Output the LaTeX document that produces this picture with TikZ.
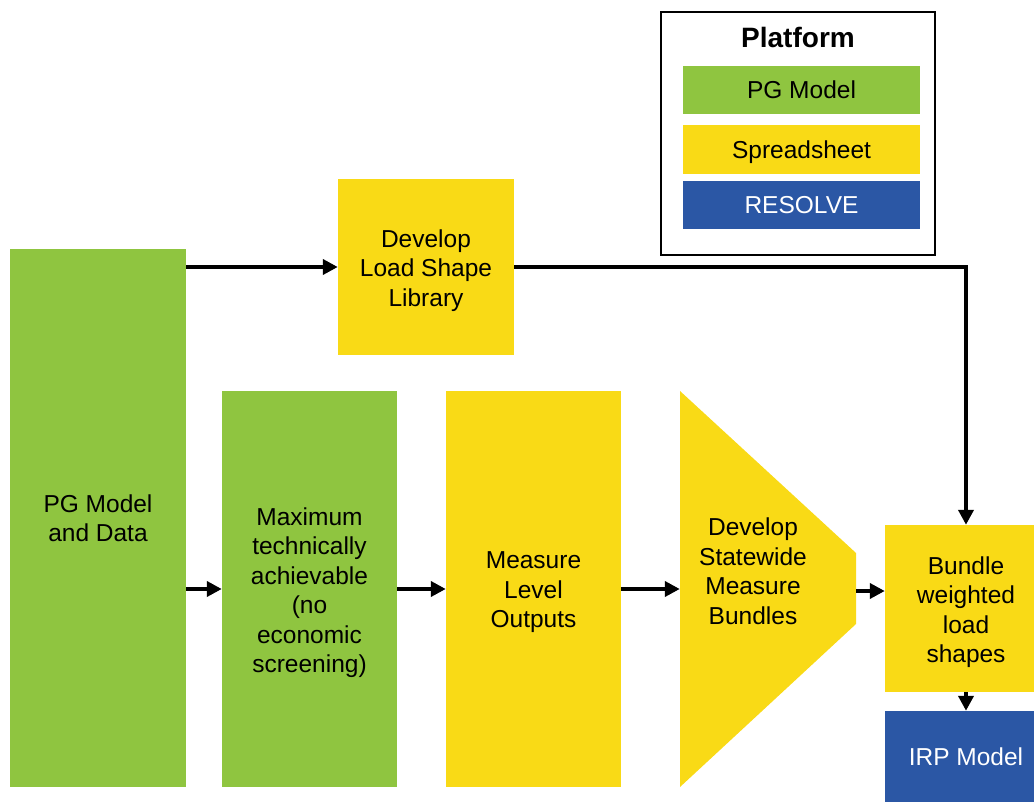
\documentclass[tikz,border=0pt]{standalone}
\usepackage{fontspec}
\setmainfont{Liberation Sans}
\usetikzlibrary{arrows.meta}
\definecolor{pggreen}{RGB}{143,197,64}
\definecolor{ssyellow}{RGB}{249,218,22}
\definecolor{resblue}{RGB}{43,87,165}
\tikzset{
  x=1pt, y=-1pt,
  box/.style={rectangle, inner sep=0pt, align=center, font=\fontsize{24.5}{29.5}\selectfont},
  greenbox/.style={box, fill=pggreen},
  yellowbox/.style={box, fill=ssyellow},
  bluebox/.style={box, fill=resblue, text=white, text depth=0pt},
  mtext/.style={box, yshift=-3.5pt},
  arr/.style={line width=4pt, -{Triangle[length=15pt,width=15pt]}},
  legbar/.style={box, minimum width=237pt, minimum height=48pt, text depth=0pt}
}
\begin{document}
\begin{tikzpicture}
\useasboundingbox (0,0) rectangle (1034,802);
\clip (0,0) rectangle (1034,802);
% main boxes
\node[greenbox, minimum width=176pt, minimum height=538pt] (pg) at (98,518) {};
\node[box] (pgtext) at (pg) {PG Model\\and Data};
\node[yellowbox, minimum width=176pt, minimum height=176pt] (load) at (426,267) {};
\node[mtext] (loadtext) at (load) {Develop\\Load Shape\\Library};
\node[greenbox, minimum width=175pt, minimum height=396pt] (maxn) at (309.5,589) {};
\node[mtext] (maxtext) at (maxn) {Maximum\\technically\\achievable\\(no\\economic\\screening)};
\node[yellowbox, minimum width=175pt, minimum height=396pt] (meas) at (533.5,589) {};
\node[mtext] (meastext) at (meas) {Measure\\Level\\Outputs};
% pentagon
\fill[ssyellow] (680,391) -- (856,553) -- (856,624) -- (680,787) -- cycle;
\node[box, minimum width=176pt, minimum height=396pt] (pent) at (768,589) {};
\node[box] (penttext) at (753,571) {Develop\\Statewide\\Measure\\Bundles};
\node[yellowbox, minimum width=162pt, minimum height=167pt] (bundle) at (966,608.5) {};
\node[mtext] (bundletext) at (bundle) {Bundle\\weighted\\load\\shapes};
\node[bluebox, minimum width=162pt, minimum height=92pt] (irp) at (966,757) {IRP Model};
% connectors
\draw[arr] (pg.east |- load.west) -- (load.west);
\draw[arr] (load.east) -| (bundle.north);
\draw[arr] (pg.east |- maxn.west) -- (maxn.west);
\draw[arr] (maxn.east) -- (meas.west);
\draw[arr] (meas.east) -- (pent.west);
\draw[arr] ([yshift=-2pt]pent.east) -- ([yshift=-2pt]pent.east -| bundle.west);
\draw[arr] (bundle.south) -- (irp.north);
% legend
\node[draw=black, line width=2pt, minimum width=274pt, minimum height=243pt, inner sep=0pt] (legend) at (798,133.5) {};
\node[box, font=\fontsize{28}{32}\selectfont\bfseries] (legtitle) at (798,37) {Platform};
\node[legbar, fill=pggreen] (legpg) at (801.5,90) {PG Model};
\node[legbar, fill=ssyellow, minimum height=49pt] (legss) at (801.5,149.5) {Spreadsheet};
\node[legbar, fill=resblue, text=white] (legres) at (801.5,205) {RESOLVE};
\end{tikzpicture}
\end{document}
